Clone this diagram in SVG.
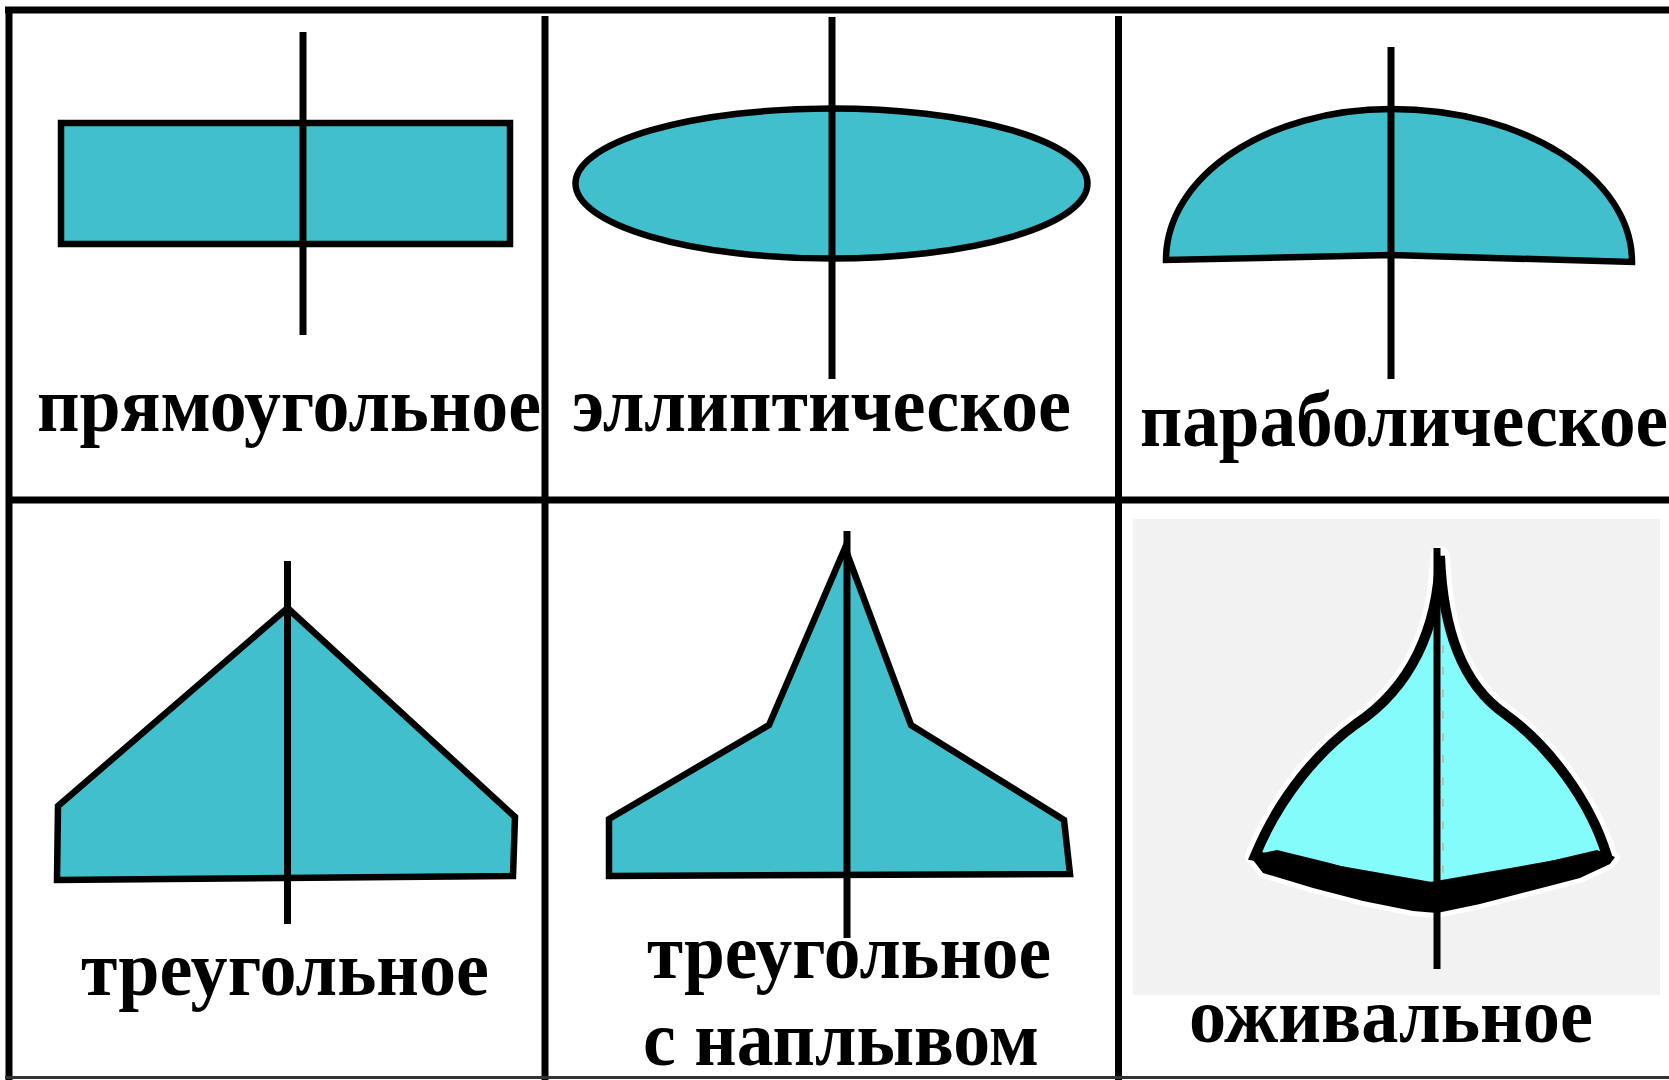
<svg xmlns="http://www.w3.org/2000/svg" width="1669" height="1080" viewBox="0 0 1669 1080">
  <style>
    .grid { stroke: #000; stroke-width: 7; fill: none; }
    .wing { fill: #42BFCC; stroke: #000; stroke-width: 6.5; stroke-linejoin: miter; }
    .axis { stroke: #000; stroke-width: 7; fill: none; }
    .label { font-family: "Liberation Serif", "Times New Roman", serif; font-weight: bold; font-size: 78px; fill: #000; }
  </style>
  <rect x="0" y="0" width="1669" height="1080" fill="#fff"/>

  <g id="grid">
    <line class="grid" x1="5" y1="10" x2="1669" y2="10"/>
    <line class="grid" x1="9" y1="7" x2="9" y2="1080"/>
    <line class="grid" x1="545" y1="16" x2="545" y2="1080" stroke-width="6"/>
    <line class="grid" x1="1118.5" y1="16" x2="1118.5" y2="1080"/>
    <line class="grid" x1="9" y1="500" x2="1669" y2="500"/>
    <line x1="5" y1="1077.5" x2="1669" y2="1077.5" stroke="#333" stroke-width="3"/>
  </g>

  <g id="rectangular">
    <rect class="wing" x="61" y="123" width="449" height="121" stroke-width="4.5"/>
    <line class="axis" x1="303" y1="32" x2="303" y2="335"/>
    <text class="label" x="37" y="431" textLength="504" lengthAdjust="spacingAndGlyphs">прямоугольное</text>
  </g>

  <g id="elliptical">
    <ellipse class="wing" cx="831.5" cy="183.5" rx="256" ry="75" stroke-width="4.5"/>
    <line class="axis" x1="832" y1="17" x2="832" y2="379"/>
    <text class="label" x="572" y="431" textLength="499" lengthAdjust="spacingAndGlyphs">эллиптическое</text>
  </g>

  <g id="parabolic">
    <path class="wing" d="M1166,260 C1166,176 1267,109 1391,109 C1524,109 1632,177 1632,262 L1391,255 Z"/>
    <line class="axis" x1="1391" y1="47" x2="1391" y2="379"/>
    <text class="label" x="1140" y="446" textLength="528" lengthAdjust="spacingAndGlyphs">параболическое</text>
  </g>

  <g id="triangular">
    <path class="wing" d="M287.5,608 L515,817 L513,876 L57,880 L58,806 Z"/>
    <line class="axis" x1="287.5" y1="561" x2="287.5" y2="924"/>
    <text class="label" x="81" y="995" textLength="408" lengthAdjust="spacingAndGlyphs">треугольное</text>
  </g>

  <g id="triangular-strake">
    <path class="wing" d="M845,548 L911,725 L1064,820 L1070,874 L609,876 L609,819 L769,725 Z"/>
    <line class="axis" x1="847" y1="531" x2="847" y2="938"/>
    <text class="label" x="647" y="978" textLength="404" lengthAdjust="spacingAndGlyphs">треугольное</text>
    <text class="label" x="643" y="1065" textLength="396" lengthAdjust="spacingAndGlyphs">с наплывом</text>
  </g>

  <g id="ogival">
    <rect x="1133" y="519" width="527" height="476" fill="#F2F2F2"/>
    <path d="M1440,556 C1438,630 1410,688 1356,724 C1320,750 1280,795 1255,856 L1431,887 L1607,856 C1590,800 1548,745 1505,714 C1462,684 1443,630 1440,556 Z" fill="none" stroke="#fff" stroke-width="20" stroke-linejoin="round"/>
    <path d="M1250,856 L1263,873 L1313,888 L1363,901 L1413,911 L1437,913 L1480,904 L1530,891 L1580,878 L1610,864 L1615,857 Z" fill="none" stroke="#fff" stroke-width="10" stroke-linejoin="round"/>
    <path d="M1440,556 C1438,630 1410,688 1356,724 C1320,750 1280,795 1255,856 L1431,887 L1607,856 C1590,800 1548,745 1505,714 C1462,684 1443,630 1440,556 Z" fill="#84FCFC" stroke="#000" stroke-width="10" stroke-linejoin="miter" stroke-miterlimit="20"/>
    <path d="M1250,856 L1263,873 L1313,888 L1363,901 L1413,911 L1437,913 L1480,904 L1530,891 L1580,878 L1610,864 L1615,857 L1597,850 L1563,858 L1513,870 L1447,885 L1427,887 L1380,877 L1330,863 L1277,850 Z" fill="#000"/>
    <line x1="1443" y1="645" x2="1443" y2="880" stroke="#C8A0A0" stroke-width="2" stroke-dasharray="8 14" opacity="0.6"/>
    <line class="axis" x1="1437" y1="548" x2="1437" y2="969" stroke-width="8"/>
    <text class="label" x="1189" y="1042" textLength="404" lengthAdjust="spacingAndGlyphs">оживальное</text>
  </g>
</svg>
